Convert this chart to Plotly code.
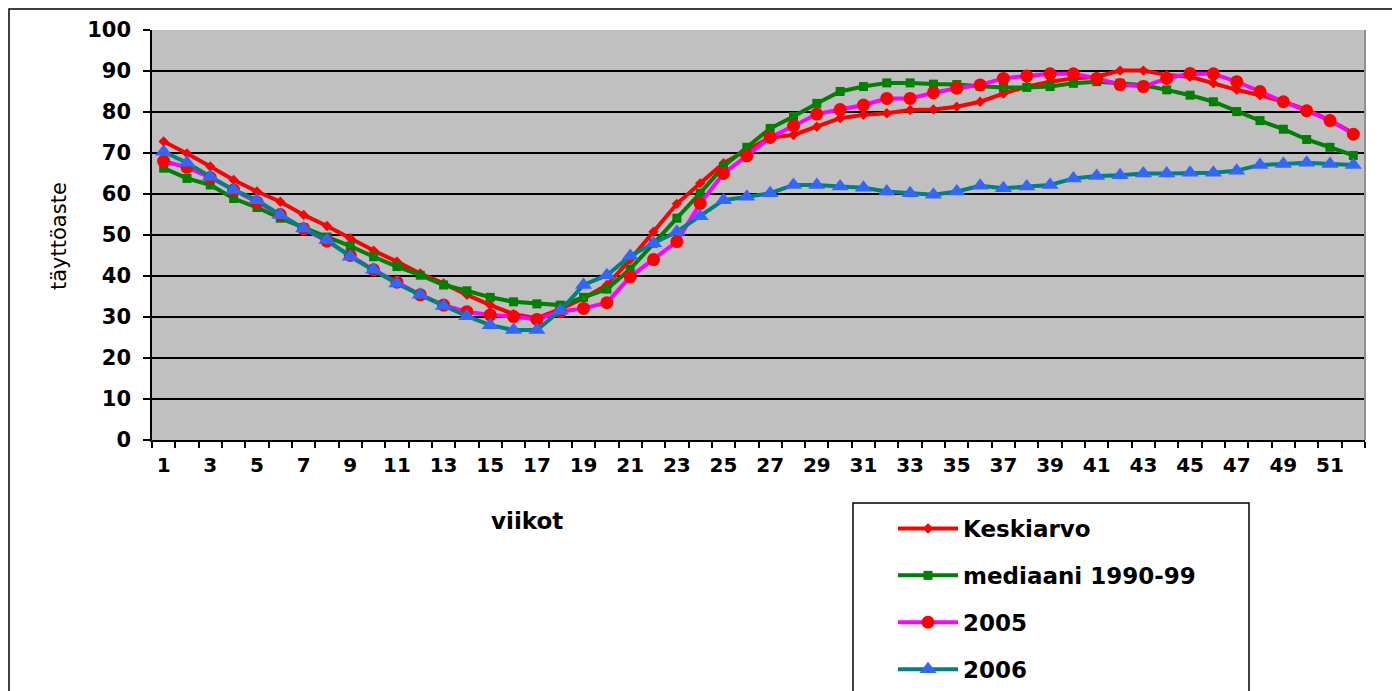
import plotly.graph_objects as go

weeks = list(range(1, 53))

keskiarvo = [72.8, 69.9, 66.7, 63.4, 60.6, 58.1, 54.9, 52.2, 49.2, 46.2,
             43.5, 40.6, 38.2, 35.4, 32.9, 30.7, 29.7, 31.9, 34.6, 37.8,
             44.0, 50.8, 57.6, 62.6, 67.5, 70.7, 73.8, 74.4, 76.4, 78.5,
             79.3, 79.7, 80.5, 80.6, 81.3, 82.5, 84.5, 86.2, 87.4, 88.2,
             88.6, 90.1, 90.1, 89.0, 88.6, 87.0, 85.4, 84.1, 82.5, 80.5,
             78.0, 74.8]

mediaani = [66.3, 63.8, 62.2, 58.9, 56.7, 54.1, 51.8, 49.5, 47.3, 44.7,
            42.3, 40.2, 37.8, 36.4, 34.8, 33.7, 33.2, 32.9, 34.8, 36.8,
            41.7, 48.0, 54.1, 60.2, 66.7, 71.4, 76.0, 78.9, 82.1, 85.0,
            86.2, 87.1, 87.1, 86.8, 86.7, 86.3, 86.0, 86.0, 86.2, 87.0,
            87.4, 87.0, 86.5, 85.4, 84.1, 82.5, 80.1, 77.9, 75.8, 73.3,
            71.4, 69.4]

y2005 = [68.0, 66.5, 64.0, 61.0, 58.0, 55.0, 51.5, 48.5, 45.0, 41.5,
         38.5, 35.4, 32.9, 31.3, 30.5, 30.1, 29.4, 31.3, 32.1, 33.5,
         39.8, 44.0, 48.4, 57.7, 65.0, 69.3, 73.8, 76.6, 79.5, 80.6,
         81.7, 83.3, 83.3, 84.7, 85.8, 86.6, 88.2, 88.8, 89.3, 89.3,
         88.2, 86.7, 86.2, 88.2, 89.4, 89.3, 87.4, 85.0, 82.5, 80.3,
         77.9, 74.6]

y2006 = [70.3, 67.6, 64.2, 61.0, 58.5, 54.9, 51.6, 48.8, 44.7, 41.5,
         38.2, 35.4, 32.7, 30.2, 28.0, 26.8, 26.8, 31.5, 37.8, 40.2,
         44.9, 48.0, 50.8, 54.6, 58.5, 59.3, 60.2, 62.2, 62.2, 61.8,
         61.5, 60.6, 60.2, 59.8, 60.6, 62.0, 61.4, 61.8, 62.2, 63.8,
         64.4, 64.6, 65.0, 65.0, 65.2, 65.2, 65.7, 67.1, 67.3, 67.6,
         67.3, 67.1]

x_ticks = list(range(1, 53, 2))
y_ticks = list(range(0, 101, 10))

FONT = "DejaVu Sans"

fig = go.Figure()
fig.add_trace(go.Scatter(x=weeks, y=keskiarvo, name="Keskiarvo", mode="lines+markers",
                         line=dict(color="#FF0000", width=4),
                         marker=dict(symbol="diamond", size=8, color="#FF0000"),
                         legendgroup="a"))
fig.add_trace(go.Scatter(x=weeks, y=mediaani, name="mediaani 1990-99", mode="lines+markers",
                         line=dict(color="#008000", width=4),
                         marker=dict(symbol="square", size=9, color="#008000"),
                         legendgroup="b"))
fig.add_trace(go.Scatter(x=weeks, y=y2005, name="2005", mode="lines+markers",
                         line=dict(color="#FF00FF", width=4),
                         marker=dict(symbol="circle", size=13, color="#FF0000"),
                         legendgroup="c"))
fig.add_trace(go.Scatter(x=weeks, y=y2006, name="2006", mode="lines+markers",
                         line=dict(color="#008080", width=4),
                         marker=dict(symbol="triangle-up", size=15, color="#3366FF"),
                         legendgroup="d"))

# page body has an 8px margin: figure coordinates = screen coordinates - 8
OFF = 8
W, H = 1392, 683
L, T = 152 - OFF, 30 - OFF
PR, PB = 1365 - OFF, 440 - OFF
R, B = W - PR, H - PB
pw, ph = PR - L, PB - T

def px(xs):
    return (xs - OFF - L) / pw

def py(ys):
    return (PB - (ys - OFF)) / ph

fig.update_layout(
    width=W, height=H,
    margin=dict(l=L, r=R, t=T, b=B, autoexpand=False),
    paper_bgcolor="white",
    plot_bgcolor="#C0C0C0",
    font=dict(family=FONT, color="black"),
    showlegend=True,
    legend=dict(x=px(893), y=py(507), xanchor="left", yanchor="top",
                bgcolor="rgba(0,0,0,0)", borderwidth=0,
                font=dict(family=FONT, size=23, weight="bold", color="black"),
                itemwidth=60, tracegroupgap=14),
    xaxis=dict(range=[0.5, 52.5], tickvals=x_ticks, ticktext=[str(v) for v in x_ticks],
               ticks="", showgrid=False, zeroline=False,
               showline=True, linecolor="black", linewidth=1.5,
               ticklabelstandoff=6,
               tickfont=dict(family=FONT, size=20, weight="bold"),
               minor=dict(tick0=0.5, dtick=1, ticks="outside", ticklen=6,
                          tickwidth=1.5, tickcolor="black", showgrid=False)),
    yaxis=dict(range=[0, 100], tickvals=y_ticks, ticks="outside", ticklen=7,
               tickwidth=1.5, tickcolor="black",
               showgrid=True, gridcolor="black", gridwidth=1.5, zeroline=False,
               showline=True, linecolor="black", linewidth=1.5,
               ticklabelstandoff=8,
               tickfont=dict(family=FONT, size=21, weight="bold")),
    annotations=[
        dict(text="viikot", x=px(527), y=py(521), xref="paper", yref="paper",
             xanchor="center", yanchor="middle",
             showarrow=False, font=dict(family=FONT, size=23, weight="bold")),
        dict(text="täyttöaste", x=px(59), y=py(236), xref="paper", yref="paper",
             xanchor="center", yanchor="middle",
             showarrow=False, textangle=-90, font=dict(family=FONT, size=21, weight=500)),
    ],
    shapes=[
        dict(type="rect", xref="paper", yref="paper",
             x0=px(9), x1=px(1393), y0=py(9), y1=py(700),
             line=dict(color="black", width=1.5), layer="below"),
        dict(type="rect", xref="paper", yref="paper",
             x0=px(853), x1=px(1249), y0=py(503), y1=py(700),
             line=dict(color="black", width=1.5), layer="below"),
        dict(type="line", xref="paper", yref="paper",
             x0=1, x1=1, y0=0, y1=1, line=dict(color="#909090", width=2)),
    ],
)

fig.write_html("out.html")
